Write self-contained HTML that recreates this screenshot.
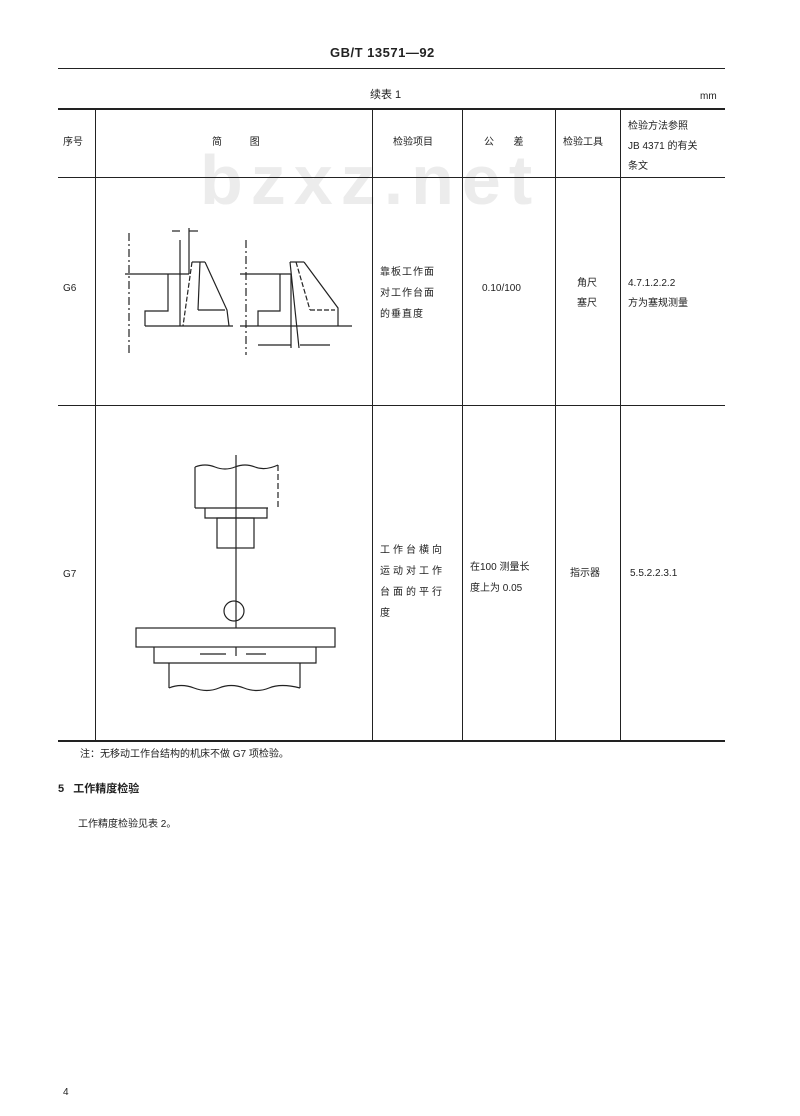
<!DOCTYPE html>
<html><head><meta charset="utf-8"><style>
body{margin:0;background:#fff;}
.p{position:relative;width:800px;height:1116px;background:#fff;font-family:"Liberation Sans","Noto Sans CJK SC",sans-serif;color:#222;overflow:hidden;}
.t{position:absolute;font-size:10px;white-space:nowrap;line-height:1;}
.l{position:absolute;background:#222;}
</style></head><body><div class="p">
<div class="t" style="left:330px;top:46px;font-size:13px;font-weight:bold;letter-spacing:0.5px;">GB/T 13571—92</div>
<div class="l" style="left:58px;top:68px;width:667px;height:1px;"></div>
<div class="t" style="left:370px;top:90px;font-size:11px;">续表 1</div>
<div class="t" style="left:700px;top:92px;">mm</div>
<div style="position:absolute;left:200px;top:140px;font-size:70px;font-weight:bold;color:#ececec;font-family:'Liberation Sans',sans-serif;letter-spacing:8px;">bzxz.net</div>
<!-- table lines -->
<div class="l" style="left:58px;top:108px;width:667px;height:2px;"></div>
<div class="l" style="left:58px;top:177px;width:667px;height:1px;"></div>
<div class="l" style="left:58px;top:405px;width:667px;height:1px;"></div>
<div class="l" style="left:58px;top:740px;width:667px;height:2px;"></div>
<div class="l" style="left:95px;top:108px;width:1px;height:632px;"></div>
<div class="l" style="left:372px;top:108px;width:1px;height:632px;"></div>
<div class="l" style="left:462px;top:108px;width:1px;height:632px;"></div>
<div class="l" style="left:555px;top:108px;width:1px;height:632px;"></div>
<div class="l" style="left:620px;top:108px;width:1px;height:632px;"></div>
<!-- header -->
<div class="t" style="left:63px;top:138px;">序号</div>
<div class="t" style="left:212px;top:138px;">简&nbsp;&nbsp;&nbsp;&nbsp;&nbsp;&nbsp;&nbsp;&nbsp;&nbsp;&nbsp;图</div>
<div class="t" style="left:393px;top:138px;">检验项目</div>
<div class="t" style="left:484px;top:138px;">公&nbsp;&nbsp;&nbsp;&nbsp;&nbsp;&nbsp;&nbsp;差</div>
<div class="t" style="left:563px;top:138px;">检验工具</div>
<div class="t" style="left:628px;top:117px;line-height:20px;">检验方法参照<br>JB 4371 的有关<br>条文</div>
<!-- G6 -->
<div class="t" style="left:63px;top:284px;">G6</div>
<div class="t" style="left:380px;top:262px;line-height:21px;letter-spacing:1px;">靠板工作面<br>对工作台面<br>的垂直度</div>
<div class="t" style="left:482px;top:284px;">0.10/100</div>
<div class="t" style="left:577px;top:274px;line-height:20px;">角尺<br>塞尺</div>
<div class="t" style="left:628px;top:274px;line-height:20px;">4.7.1.2.2.2<br>方为塞规测量</div>
<!-- G7 -->
<div class="t" style="left:63px;top:570px;">G7</div>
<div class="t" style="left:380px;top:540px;line-height:21px;letter-spacing:3px;">工作台横向<br>运动对工作<br>台面的平行<br>度</div>
<div class="t" style="left:470px;top:557px;line-height:21px;">在100 测量长<br>度上为 0.05</div>
<div class="t" style="left:570px;top:569px;">指示器</div>
<div class="t" style="left:630px;top:569px;">5.5.2.2.3.1</div>
<div class="t" style="left:80px;top:750px;">注：无移动工作台结构的机床不做 G7 项检验。</div>
<div class="t" style="left:58px;top:784px;font-size:11px;font-weight:bold;">5&nbsp;&nbsp;&nbsp;工作精度检验</div>
<div class="t" style="left:78px;top:820px;">工作精度检验见表 2。</div>
<div class="t" style="left:63px;top:1088px;">4</div>
<svg width="800" height="1116" style="position:absolute;left:0;top:0" fill="none" stroke="#222" stroke-width="1.2">
<!-- G6 left -->
<line x1="129" y1="233" x2="129" y2="353" stroke-dasharray="8,3,2,3"/>
<line x1="125" y1="274" x2="189" y2="274"/>
<polyline points="145,326 145,311 168,311 168,274"/>
<line x1="145" y1="326" x2="233" y2="326"/>
<line x1="180" y1="240" x2="180" y2="326"/>
<line x1="189" y1="228" x2="189" y2="274"/>
<line x1="192" y1="262" x2="205" y2="262"/>
<line x1="192" y1="262" x2="183" y2="326" stroke-dasharray="5,2"/>
<line x1="200" y1="262" x2="198" y2="310"/>
<line x1="198" y1="310" x2="225" y2="310"/>
<polyline points="205,262 227,310 229,326"/>
<line x1="172" y1="231" x2="180" y2="231"/><line x1="189" y1="231" x2="198" y2="231"/>
<!-- G6 right -->
<line x1="240" y1="274" x2="291" y2="274"/>
<line x1="246" y1="240" x2="246" y2="355" stroke-dasharray="8,3,2,3"/>
<polyline points="258,326 258,311 280,311 280,274"/>
<line x1="240" y1="326" x2="352" y2="326"/>
<line x1="290" y1="262" x2="304" y2="262"/>
<line x1="290" y1="262" x2="299" y2="348"/>
<line x1="296" y1="262" x2="310" y2="310" stroke-dasharray="5,2"/>
<line x1="310" y1="310" x2="335" y2="310" stroke-dasharray="5,2"/>
<polyline points="304,262 338,308 338,326"/>
<line x1="291" y1="274" x2="291" y2="348"/>
<line x1="258" y1="345" x2="291" y2="345"/><line x1="300" y1="345" x2="330" y2="345"/>
<!-- G7 -->
<path d="M195,467 q10,-4 20,0 t20,0 t20,0 t23,-2"/>
<line x1="195" y1="467" x2="195" y2="508"/>
<line x1="278" y1="465" x2="278" y2="510" stroke-dasharray="6,3"/>
<line x1="195" y1="508" x2="268" y2="508"/>
<polyline points="205,508 205,518 267,518 267,508"/>
<rect x="217" y="518" width="37" height="30"/>
<line x1="236" y1="455" x2="236" y2="628"/>
<circle cx="234" cy="611" r="10"/>
<rect x="136" y="628" width="199" height="19"/>
<polyline points="154,647 154,663 316,663 316,647"/>
<line x1="169" y1="663" x2="169" y2="688"/><line x1="300" y1="663" x2="300" y2="688"/>
<path d="M169,688 q12,-5 25,0 t25,0 t25,0 t25,0 t31,0"/>
<line x1="236" y1="647" x2="236" y2="656"/>
<line x1="200" y1="654" x2="226" y2="654"/><line x1="246" y1="654" x2="266" y2="654"/>
</svg>
</div></body></html>
